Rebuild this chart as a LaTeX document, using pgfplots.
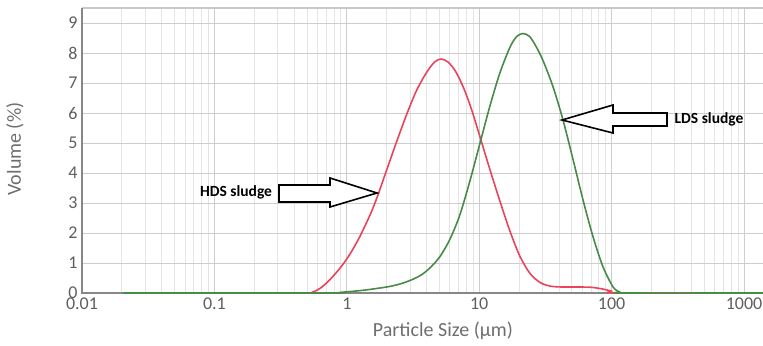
\documentclass[border=0pt]{standalone}
\usepackage{pgfplots}
\pgfplotsset{compat=1.18}
\usepackage{fontspec}
\setmainfont{Carlito}
\definecolor{hds}{RGB}{234,68,92}
\definecolor{lds}{RGB}{72,138,72}
\definecolor{tickgray}{RGB}{95,95,95}
\definecolor{labgray}{RGB}{110,110,110}
\begin{document}
\begin{tikzpicture}
\begin{axis}[
  scale only axis, width=681bp, height=285bp,
  xmode=log, xmin=0.01, xmax=1390, ymin=0, ymax=9.5,
  clip=false,
  axis line style={draw=none},
  major tick length=0pt, minor tick length=0pt,
  xtick={0.01,0.1,1,10,100,1000},
  xticklabels={0.01,0.1,1,10,100,1000},
  minor xtick={0.02,0.03,0.04,0.05,0.06,0.07,0.08,0.09,0.2,0.3,0.4,0.5,0.6,0.7,0.8,0.9,2,3,4,5,6,7,8,9,20,30,40,50,60,70,80,90,200,300,400,500,600,700,800,900},
  ytick={0,1,2,3,4,5,6,7,8,9},
  yticklabels={0,1,2,3,4,5,6,7,8,9},
  xmajorgrids, xminorgrids, ymajorgrids,
  major grid style={draw={rgb,255:red,205;green,205;blue,205}, line width=0.9bp},
  minor grid style={draw={rgb,255:red,228;green,228;blue,228}, line width=0.8bp},
  xticklabel style={font=\fontsize{18bp}{20bp}\selectfont, text=tickgray, yshift=-1bp},
  yticklabel style={font=\fontsize{18bp}{20bp}\selectfont, text=tickgray, xshift=-1bp},
  xlabel={Particle Size (µm)},
  ylabel={Volume (\%)},
  every axis x label/.style={at={(axis description cs:0.530,-0.1333)}, anchor=center, font=\fontsize{20bp}{22bp}\selectfont, text=labgray},
  every axis y label/.style={at={(axis description cs:-0.0984,0.505)}, anchor=center, rotate=90, font=\fontsize{20bp}{22bp}\selectfont, text=labgray},
]
\draw[draw={rgb,255:red,200;green,200;blue,200}, line width=1.5bp] (rel axis cs:0,1) -- (rel axis cs:1,1);
\draw[draw={rgb,255:red,135;green,135;blue,135}, line width=2bp] (rel axis cs:0,1) -- (rel axis cs:0,0) -- (rel axis cs:1,0);
\addplot[hds, line width=1.6bp, smooth, tension=0.5] coordinates {
 (0.0204,0) (0.3,0) (0.5,0) (0.56,0.04) (0.64,0.18) (0.747,0.45) (0.9,0.86) (1.057,1.3)
 (1.25,1.87) (1.497,2.6) (1.69,3.18) (2.0,4.1) (2.38,5.05) (2.83,5.95) (3.36,6.75)
 (4.0,7.35) (4.6,7.7) (5.15,7.8) (5.8,7.7) (6.6,7.4) (7.6,6.85) (8.7,6.15) (10.14,5.2)
 (12.07,4.1) (14.36,3.05) (17.1,2.05) (20.3,1.22) (24.2,0.65) (28.8,0.35) (34.3,0.23)
 (42,0.2) (55,0.2) (70,0.19) (86.1,0.13) (100,0.06) (112,0) (1390,0)
};
\addplot[lds, line width=1.6bp, smooth, tension=0.5] coordinates {
 (0.0204,0) (0.75,0) (0.889,0.02) (1.2,0.07) (1.5,0.12) (2.12,0.22) (2.65,0.33)
 (3.2,0.47) (3.7,0.62) (4.3,0.86) (5.06,1.22) (6.02,1.8) (7.16,2.62) (8.52,3.75)
 (10.14,5.0) (12.07,6.25) (14.36,7.35) (17.1,8.2) (19.2,8.55) (21.4,8.65) (24,8.55)
 (27,8.2) (30.3,7.75) (36.1,6.87) (42.9,5.77) (51.1,4.45) (60.8,3.1) (72.4,1.87)
 (86.1,0.87) (102.5,0.2) (115,0.03) (122,0) (1390,0)
};
\end{axis}
\begin{scope}[x=1bp, y=-1bp, xshift=-82bp, yshift=293bp]
  \draw[black, line width=1.6bp, fill=white, line join=miter]
    (279,185) -- (330,185) -- (330,178) -- (377,193) -- (330,207) -- (330,202) -- (279,202) -- cycle;
  \draw[black, line width=1.6bp, fill=white, line join=miter]
    (562,120) -- (613,105) -- (613,113) -- (667,113) -- (667,126) -- (613,126) -- (613,133) -- cycle;
  \node[font=\fontsize{15.5bp}{17bp}\selectfont\bfseries, text=black] at (236,192) {HDS sludge};
  \node[font=\fontsize{15.5bp}{17bp}\selectfont\bfseries, text=black] at (709,119) {LDS sludge};
\end{scope}
\pgfresetboundingbox
\path[use as bounding box] (-82bp,-53bp) rectangle (681bp,293bp);
\end{tikzpicture}
\end{document}
